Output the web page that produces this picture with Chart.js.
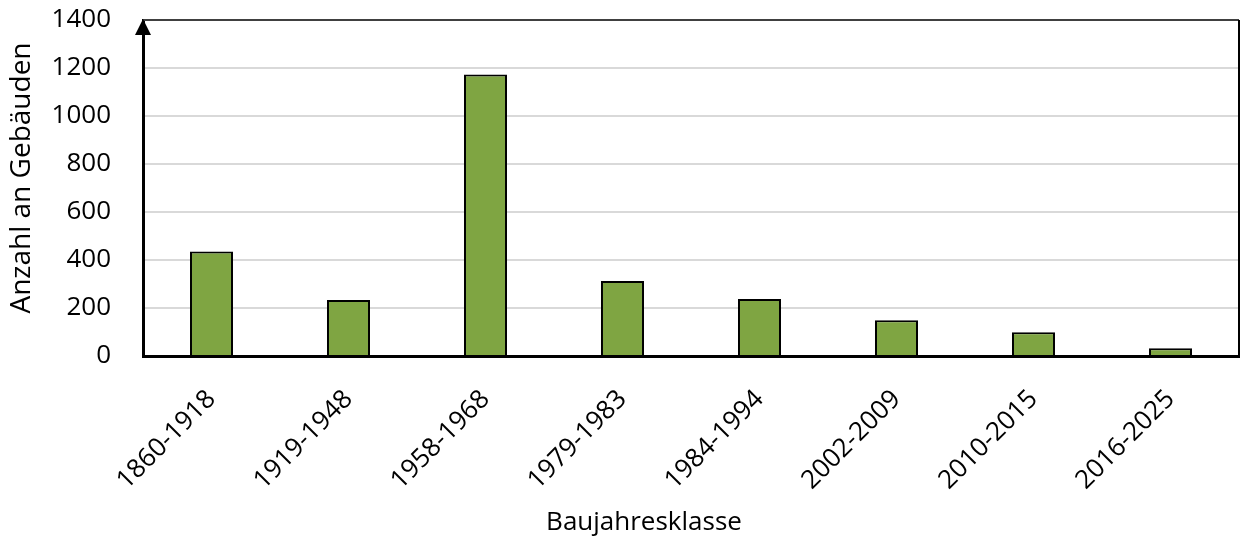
<!DOCTYPE html>
<html lang="de">
<head>
<meta charset="utf-8">
<script src="https://cdn.jsdelivr.net/npm/chart.js@4/dist/chart.umd.min.js"></script>
<style>
    html, body { margin: 0; padding: 0; background: #fff; }
    #chart { display: block; }
</style>
</head>
<body>
<canvas id="chart" width="1241" height="542"></canvas>
<script>
// Baujahresklassen und Anzahl an Gebäuden
const categories = ['1860-1918', '1919-1948', '1958-1968', '1979-1983', '1984-1994', '2002-2009', '2010-2015', '2016-2025'];
const buildingCounts = [435, 233, 1173, 312, 237, 149, 99, 32];
const yTicks = [0, 200, 400, 600, 800, 1000, 1200, 1400];
const xTitle = 'Baujahresklasse';
const yTitle = 'Anzahl an Gebäuden';

const FONT = '"Open Sans", "Noto Sans", sans-serif';

// Draws the frame (top/right), the arrow on the y axis and the axis titles
const framePlugin = {
    id: 'frame',
    afterDraw(chart) {
        const { ctx, chartArea } = chart;
        const { left, right, top, bottom } = chartArea;
        ctx.save();
        ctx.strokeStyle = '#404040';
        ctx.lineWidth = 2;
        ctx.beginPath();
        ctx.moveTo(left, top);
        ctx.lineTo(right, top);
        ctx.stroke();
        ctx.strokeStyle = '#000';
        ctx.beginPath();
        ctx.moveTo(right, top);
        ctx.lineTo(right, bottom);
        ctx.stroke();

        // arrow head
        ctx.fillStyle = '#000';
        ctx.beginPath();
        ctx.moveTo(left, top - 1);
        ctx.lineTo(left - 8, top + 15);
        ctx.lineTo(left + 8, top + 15);
        ctx.closePath();
        ctx.fill();

        // axis titles (Excel places them slightly left of the plot centre)
        ctx.textAlign = 'center';
        ctx.textBaseline = 'middle';
        ctx.font = `26px ${FONT}`;
        ctx.fillText(xTitle, (left + right) / 2 - 47, chart.height - 19);

        ctx.translate(22, (top + bottom) / 2 - 10);
        ctx.rotate(-Math.PI / 2);
        ctx.font = `28px ${FONT}`;
        ctx.fillText(yTitle, 0, 0);
        ctx.restore();
    }
};

new Chart(document.getElementById('chart'), {
    type: 'bar',
    data: {
        labels: categories,
        datasets: [{
            label: yTitle,
            data: buildingCounts,
            backgroundColor: '#7fa542',
            borderColor: '#000',
            borderWidth: 2,
            categoryPercentage: 1,
            barPercentage: 0.314
        }]
    },
    options: {
        responsive: false,
        animation: false,
        layout: { padding: { top: 20, right: 2, left: 0, bottom: 0 } },
        plugins: {
            legend: { display: false },
            tooltip: { enabled: false }
        },
        scales: {
            x: {
                grid: { display: false },
                border: { color: '#000', width: 3 },
                ticks: {
                    color: '#000',
                    font: { family: FONT, size: 26 },
                    maxRotation: 45,
                    minRotation: 45,
                    padding: 20
                },
                afterFit(scale) {
                    scale.height = 186;
                    scale.paddingLeft = 0;
                    scale.paddingRight = 0;
                }
            },
            y: {
                min: 0,
                max: 1400,
                afterBuildTicks(scale) {
                    scale.ticks = yTicks.map(v => ({ value: v }));
                },
                grid: { color: '#d9d9d9', lineWidth: 2, drawTicks: false },
                border: { color: '#000', width: 3 },
                ticks: {
                    color: '#000',
                    font: { family: FONT, size: 26 },
                    padding: 32,
                    callback: v => String(v)
                },
                afterFit(scale) {
                    scale.width = 143;
                    scale.paddingTop = 0;
                    scale.paddingBottom = 0;
                }
            }
        }
    },
    plugins: [framePlugin]
});
</script>
</body>
</html>
